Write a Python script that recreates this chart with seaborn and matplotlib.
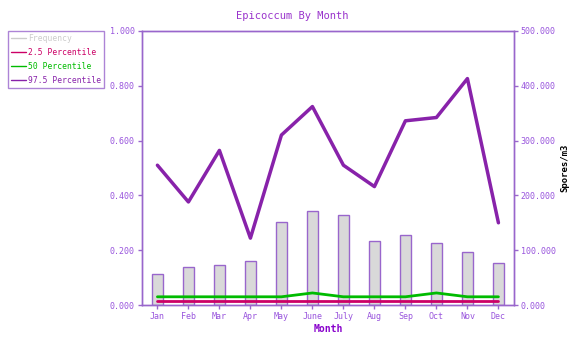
import numpy as np
import pandas as pd
import matplotlib
matplotlib.use('Agg')
import matplotlib.pyplot as plt
from matplotlib.lines import Line2D
import seaborn as sns

# data
months = ['Jan', 'Feb', 'Mar', 'Apr', 'May', 'June', 'July', 'Aug', 'Sep', 'Oct', 'Nov', 'Dec']
frequency = [0.113, 0.138, 0.147, 0.160, 0.302, 0.342, 0.328, 0.232, 0.254, 0.226, 0.195, 0.155]
p2_5 = [7, 7, 7, 7, 7, 7, 7, 7, 7, 7, 7, 7]
p50 = [15, 15, 15, 15, 15, 22, 15, 15, 15, 22, 15, 15]
p97_5 = [255, 188, 282, 122, 310, 362, 255, 216, 336, 342, 413, 150]

sns.set_style('white')
plt.rcParams['font.family'] = ['DejaVu Sans Mono', 'DejaVu Sans']

axis_col = '#9966cc'
tick_col = '#9955dd'
c97 = '#8822aa'
c50 = '#00bb00'
c25 = '#cc0066'
cfreq = '#cccccc'

df = pd.DataFrame({'month': months, 'freq': frequency, 'idx': np.arange(12),
                   'p2_5': p2_5, 'p50': p50, 'p97_5': p97_5})

fig = plt.figure(figsize=(5.84, 3.51), dpi=100)
ax = fig.add_axes([0.243, 0.131, 0.637, 0.781])
ax2 = ax.twinx()

sns.barplot(data=df, x='month', y='freq', ax=ax, color='#d9d9d9', width=0.34,
            edgecolor=axis_col, linewidth=1, saturation=1)
ax.set_ylim(0, 1)
ax.set_xlim(-0.5, 11.5)

sns.lineplot(data=df, x='idx', y='p2_5', ax=ax2, color=c25, linewidth=2)
sns.lineplot(data=df, x='idx', y='p50', ax=ax2, color=c50, linewidth=2)
sns.lineplot(data=df, x='idx', y='p97_5', ax=ax2, color=c97, linewidth=2.5)
ax2.set_ylim(0, 500)
ax2.set_xlim(-0.5, 11.5)

ax.set_yticks(np.arange(0, 1.01, 0.2))
ax.set_yticklabels(['%.3f' % v for v in np.arange(0, 1.01, 0.2)])
ax2.set_yticks(np.arange(0, 501, 100))
ax2.set_yticklabels(['%.3f' % v for v in np.arange(0, 501, 100)])

for a in (ax, ax2):
    for s in a.spines.values():
        s.set_color(axis_col)
        s.set_linewidth(1)
    a.tick_params(axis='both', colors=axis_col, labelcolor=tick_col, labelsize=6,
                  length=3, width=1, direction='out', pad=2)
ax.tick_params(left=True, bottom=True)
ax2.tick_params(right=True)

ax.set_xlabel('Month', color='#8800cc', fontsize=7, fontweight='bold', labelpad=2)
ax.set_ylabel('')
ax2.set_ylabel('Spores/m3', color='black', fontsize=6.5, fontweight='bold', labelpad=3)

fig.text(0.5, 0.955, 'Epicoccum By Month', ha='center', va='center',
         color='#9933cc', fontsize=7.5)

handles = [Line2D([], [], color=cfreq, lw=1),
           Line2D([], [], color=c25, lw=1),
           Line2D([], [], color=c50, lw=1),
           Line2D([], [], color=c97, lw=1)]
labels = ['Frequency', '2.5 Percentile', '50 Percentile', '97.5 Percentile']
leg = fig.legend(handles, labels, loc='upper left', bbox_to_anchor=(0.0137, 0.912),
                 fontsize=5.8, frameon=True, fancybox=False, borderpad=0.4,
                 handlelength=1.8, handletextpad=0.3, labelspacing=0.6,
                 borderaxespad=0)
leg.get_frame().set_edgecolor(axis_col)
leg.get_frame().set_linewidth(1)
for t, c in zip(leg.get_texts(), [cfreq, c25, c50, c97]):
    t.set_color(c)

fig.savefig('out.png', dpi=100)
